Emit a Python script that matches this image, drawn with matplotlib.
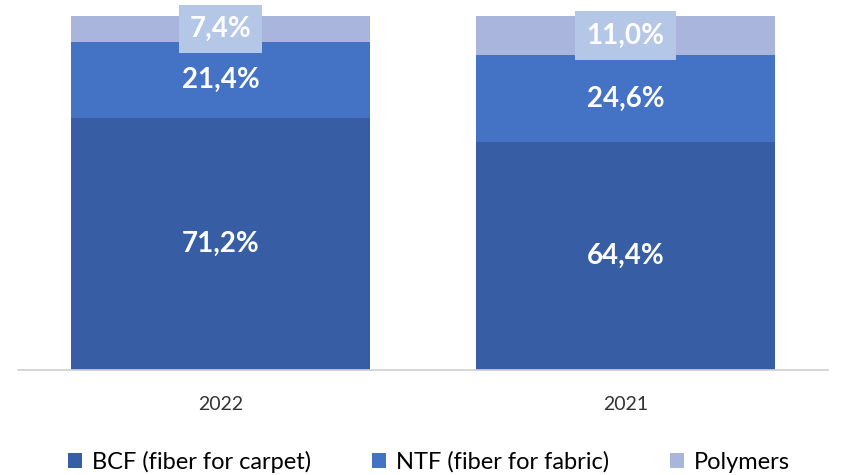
import matplotlib.pyplot as plt
import numpy as np

# data
years = ['2022', '2021']
bcf = [71.2, 64.4]
ntf = [21.4, 24.6]
polymers = [7.4, 11.0]
series_names = ['BCF (fiber for carpet)', 'NTF (fiber for fabric)', 'Polymers']
colors = ['#375EA5', '#4472C4', '#A9B5DC']

plt.rcParams['font.family'] = ['Lato', 'DejaVu Sans']

fig = plt.figure(figsize=(8.41, 4.75), dpi=100)
ax = fig.add_axes([18 / 841, 105 / 475, 810 / 841, 354 / 475])

x = np.arange(len(years))
bottom = np.zeros(len(years))
for i, vals in enumerate([bcf, ntf, polymers]):
    vals = np.array(vals)
    ax.bar(x, vals, width=0.74, bottom=bottom, color=colors[i],
           label=series_names[i], zorder=2)
    for xi, b, v in zip(x, bottom, vals):
        label = f'{v:.1f}%'.replace('.', ',')
        if i == 2:
            # polymers label sits in a light box
            ax.text(xi, b + v / 2, label, ha='center', va='center',
                    color='white', fontsize=20, fontweight='bold', zorder=3,
                    bbox=dict(boxstyle='square,pad=0.4', fc='#B4C7E7',
                              ec='none'))
        else:
            ax.text(xi, b + v / 2, label, ha='center', va='center',
                    color='white', fontsize=20, fontweight='bold', zorder=3)
    bottom = bottom + vals

ax.set_xlim(-0.5, 1.5)
ax.set_ylim(0, 100)
ax.set_xticks(x)
ax.set_xticklabels(years, fontsize=14, color='#333333')
ax.tick_params(axis='x', length=0, pad=19)
ax.set_yticks([])
for side in ['left', 'right', 'top']:
    ax.spines[side].set_visible(False)
ax.spines['bottom'].set_color('#D0D0D0')
ax.spines['bottom'].set_linewidth(1.2)

fig.legend(loc='lower center', bbox_to_anchor=(0.51, -0.04), ncol=3,
           frameon=False, fontsize=17, handlelength=0.6, handleheight=0.6,
           handletextpad=0.4, columnspacing=2.6)

fig.savefig('out.png', dpi=100)
